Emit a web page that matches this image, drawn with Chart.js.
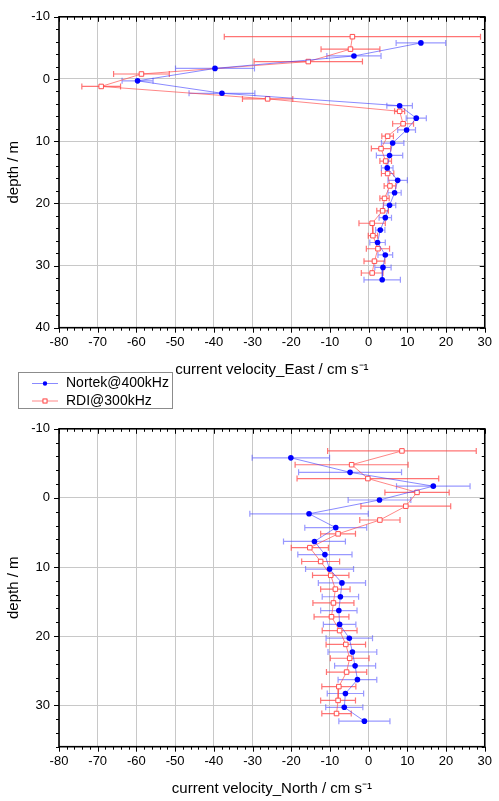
<!DOCTYPE html>
<html lang="en">
<head>
<meta charset="utf-8">
<title>Current velocity profiles</title>
<script src="https://cdn.jsdelivr.net/npm/chart.js"></script>
<style>
  body { margin: 0; background: #fff; }
  .wrap { position: relative; width: 499px; height: 801px; }
  canvas { position: absolute; left: 0; }
  #east { top: 0; }
  #north { top: 412px; }
</style>
</head>
<body>
<div class="wrap">
  <canvas id="east" width="499" height="412"></canvas>
  <canvas id="north" width="499" height="389"></canvas>
</div>
<script>
// depth of each bin (m)
const nortekDepth = [-5.8, -3.7, -1.7, 0.3, 2.3, 4.3, 6.3, 8.2, 10.3, 12.3, 14.3, 16.3, 18.3, 20.3, 22.3, 24.3, 26.3, 28.3, 30.3, 32.3];
const rdiDepth = [-6.8, -4.8, -2.8, -0.8, 1.2, 3.2, 5.2, 7.2, 9.2, 11.2, 13.2, 15.2, 17.2, 19.2, 21.2, 23.2, 25.2, 27.3, 29.3, 31.2];

// east component (cm/s) and its spread
const nortekEast = [13.5, -3.8, -39.7, -59.7, -37.9, 8.0, 12.3, 9.8, 6.2, 5.4, 4.8, 7.5, 6.7, 5.4, 4.3, 3.0, 2.3, 4.3, 3.7, 3.5];
const nortekEastErr = [6.4, 7.0, 10.2, 4.0, 8.5, 3.3, 2.6, 2.3, 2.9, 3.4, 1.5, 2.5, 1.7, 1.6, 1.6, 1.2, 2.0, 1.9, 2.1, 4.7];
const rdiEast = [-4.2, -4.7, -15.6, -58.7, -69.1, -26.1, 8.0, 8.9, 4.9, 3.2, 4.4, 4.9, 5.5, 4.1, 3.6, 0.9, 1.1, 2.4, 1.5, 0.9];
const rdiEastErr = [33.1, 7.6, 14.0, 7.2, 5.0, 6.5, 1.3, 2.7, 1.5, 2.5, 1.5, 1.6, 1.5, 1.2, 1.5, 3.4, 1.2, 3.0, 2.7, 2.8];

// north component (cm/s) and its spread
const nortekNorth = [-20.1, -4.8, 16.7, 2.8, -15.4, -8.5, -14.0, -11.3, -10.1, -6.9, -7.3, -7.7, -7.5, -5.0, -4.2, -3.5, -2.9, -6.0, -6.3, -1.1];
const nortekNorthErr = [10.0, 13.3, 9.5, 8.1, 15.3, 8.0, 8.0, 7.0, 6.2, 6.1, 4.7, 4.7, 4.2, 6.0, 6.3, 5.3, 5.0, 4.7, 4.8, 6.6];
const rdiNorth = [8.6, -4.4, -0.2, 12.5, 9.6, 2.9, -7.9, -15.2, -12.4, -9.8, -8.6, -9.1, -9.6, -7.5, -5.9, -4.9, -5.7, -7.7, -7.9, -8.3];
const rdiNorthErr = [19.2, 14.6, 18.3, 8.3, 11.6, 5.2, 4.5, 4.8, 4.9, 4.7, 3.8, 5.3, 4.5, 4.5, 5.1, 5.0, 5.2, 4.4, 4.5, 3.8];

const xTicks = [-80, -70, -60, -50, -40, -30, -20, -10, 0, 10, 20, 30];

Chart.defaults.font.family = '"Liberation Sans", Arial, sans-serif';
Chart.defaults.color = '#000';

// horizontal error bars with caps, drawn under the markers
const errorBars = {
  id: 'errorBars',
  beforeDatasetsDraw(chart) {
    const { ctx, scales: { x, y } } = chart;
    ctx.save();
    for (let i = chart.data.datasets.length - 1; i >= 0; i--) {
      const ds = chart.data.datasets[i];
      ctx.strokeStyle = ds.barColor;
      ctx.lineWidth = 1.2;
      ds.data.forEach((p, j) => {
        const py = y.getPixelForValue(p.y);
        const x0 = x.getPixelForValue(p.x - ds.err[j]);
        const x1 = x.getPixelForValue(p.x + ds.err[j]);
        ctx.beginPath();
        ctx.moveTo(x0, py); ctx.lineTo(x1, py);
        ctx.moveTo(x0, py - 3); ctx.lineTo(x0, py + 3);
        ctx.moveTo(x1, py - 3); ctx.lineTo(x1, py + 3);
        ctx.stroke();
      });
    }
    ctx.restore();
  }
};

// closed frame, ticks pointing down/left on every side
const frame = {
  id: 'frame',
  afterDraw(chart) {
    const { ctx, chartArea: a, scales: { x, y } } = chart;
    ctx.save();
    ctx.strokeStyle = '#000';
    ctx.lineWidth = 1;
    ctx.beginPath();
    for (let v = x.min; v <= x.max + 0.01; v += 2) {
      const px = Math.round(x.getPixelForValue(v)) + 0.5;
      const len = v % 10 === 0 ? 5 : 3;
      ctx.moveTo(px, a.bottom); ctx.lineTo(px, a.bottom + len);
      ctx.moveTo(px, a.top); ctx.lineTo(px, a.top + len);
    }
    for (let v = y.min; v <= y.max + 0.01; v += 2) {
      const py = Math.round(y.getPixelForValue(v)) + 0.5;
      const len = v % 10 === 0 ? 5 : 3;
      ctx.moveTo(a.left, py); ctx.lineTo(a.left - len, py);
      ctx.moveTo(a.right, py); ctx.lineTo(a.right - len, py);
    }
    ctx.stroke();
    ctx.lineWidth = 1.6;
    ctx.strokeRect(a.left, a.top, a.right - a.left, a.bottom - a.top);
    ctx.restore();
  }
};

// boxed legend below the upper panel
const boxLegend = {
  id: 'boxLegend',
  afterDraw(chart, args, opts) {
    if (!opts.show) return;
    const { ctx } = chart;
    ctx.save();
    ctx.fillStyle = '#fff';
    ctx.fillRect(18.5, 372.5, 154, 36);
    ctx.strokeStyle = '#8c8c8c';
    ctx.lineWidth = 1;
    ctx.strokeRect(18.5, 372.5, 154, 36);
    chart.data.datasets.forEach((ds, i) => {
      const cy = 383.5 + i * 17.5;
      ctx.strokeStyle = ds.borderColor;
      ctx.beginPath(); ctx.moveTo(32, cy); ctx.lineTo(58, cy); ctx.stroke();
      Chart.helpers.drawPoint(ctx, {
        pointStyle: ds.pointStyle, radius: i === 0 ? 2.2 : 2.6, borderWidth: ds.pointBorderWidth, rotation: 0
      }, 45, cy);
      ctx.fillStyle = ds.pointBackgroundColor;
      ctx.strokeStyle = ds.pointBorderColor;
      ctx.lineWidth = 1;
      if (ds.pointStyle === 'rect') {
        ctx.fillRect(43, cy - 2, 4, 4);
        ctx.strokeRect(43, cy - 2, 4, 4);
      } else {
        ctx.beginPath(); ctx.arc(45, cy, 2.2, 0, Math.PI * 2); ctx.fill();
      }
      ctx.fillStyle = '#000';
      ctx.font = '14px "Liberation Sans", Arial, sans-serif';
      ctx.textBaseline = 'middle';
      ctx.fillText(ds.label, 66, cy);
    });
    ctx.restore();
  }
};

function profileChart(id, xTitle, yMax, nVals, nErr, rVals, rErr, showLegend, padTop, padBottom) {
  const ctx = document.getElementById(id).getContext('2d');
  return new Chart(ctx, {
    type: 'scatter',
    data: {
      datasets: [
        {
          label: 'Nortek@400kHz',
          data: nortekDepth.map((d, i) => ({ x: nVals[i], y: d })),
          err: nErr,
          barColor: 'rgba(70,70,255,0.55)',
          showLine: true,
          borderColor: 'rgba(60,60,255,0.6)',
          borderWidth: 1,
          pointStyle: 'circle',
          pointRadius: 2.8,
          pointBackgroundColor: '#0000ff',
          pointBorderColor: '#0000ff',
          pointBorderWidth: 0,
          order: 0
        },
        {
          label: 'RDI@300kHz',
          data: rdiDepth.map((d, i) => ({ x: rVals[i], y: d })),
          err: rErr,
          barColor: 'rgba(255,70,70,0.75)',
          showLine: true,
          borderColor: 'rgba(255,70,70,0.65)',
          borderWidth: 1,
          pointStyle: 'rect',
          pointRadius: 3.2,
          pointBackgroundColor: '#fff',
          pointBorderColor: '#ff5050',
          pointBorderWidth: 1,
          order: 1
        }
      ]
    },
    options: {
      responsive: false,
      animation: false,
      layout: { padding: { top: padTop, right: 6.7, bottom: padBottom, left: 0 } },
      plugins: {
        legend: { display: false },
        tooltip: { enabled: false },
        boxLegend: { show: showLegend }
      },
      scales: {
        x: {
          type: 'linear',
          min: -80,
          max: 30,
          afterBuildTicks: s => { s.ticks = xTicks.map(v => ({ value: v })); },
          afterFit: s => { s.height = 51.3; },
          border: { display: false },
          grid: { color: '#c8c8c8', drawTicks: false },
          ticks: { padding: 7, font: { size: 13 } },
          title: { display: true, text: xTitle, font: { size: 15 }, padding: 0 }
        },
        y: {
          type: 'linear',
          reverse: true,
          min: -10,
          max: yMax,
          afterBuildTicks: s => {
            const t = [];
            for (let v = -10; v <= yMax; v += 10) t.push({ value: v });
            s.ticks = t;
          },
          afterFit: s => { s.width = 59; },
          border: { display: false },
          grid: { color: '#c8c8c8', drawTicks: false },
          ticks: { padding: 9, font: { size: 13 } },
          title: { display: true, text: 'depth / m', font: { size: 15 }, padding: { top: 5, bottom: 0 } }
        }
      }
    },
    plugins: [errorBars, frame, boxLegend]
  });
}

profileChart('east', 'current velocity_East / cm s\u207B\u00B9', 40,
  nortekEast, nortekEastErr, rdiEast, rdiEastErr, true, 9.7, 33);
profileChart('north', 'current velocity_North / cm s\u207B\u00B9', 36,
  nortekNorth, nortekNorthErr, rdiNorth, rdiNorthErr, false, 15.7, 3);
</script>
</body>
</html>
